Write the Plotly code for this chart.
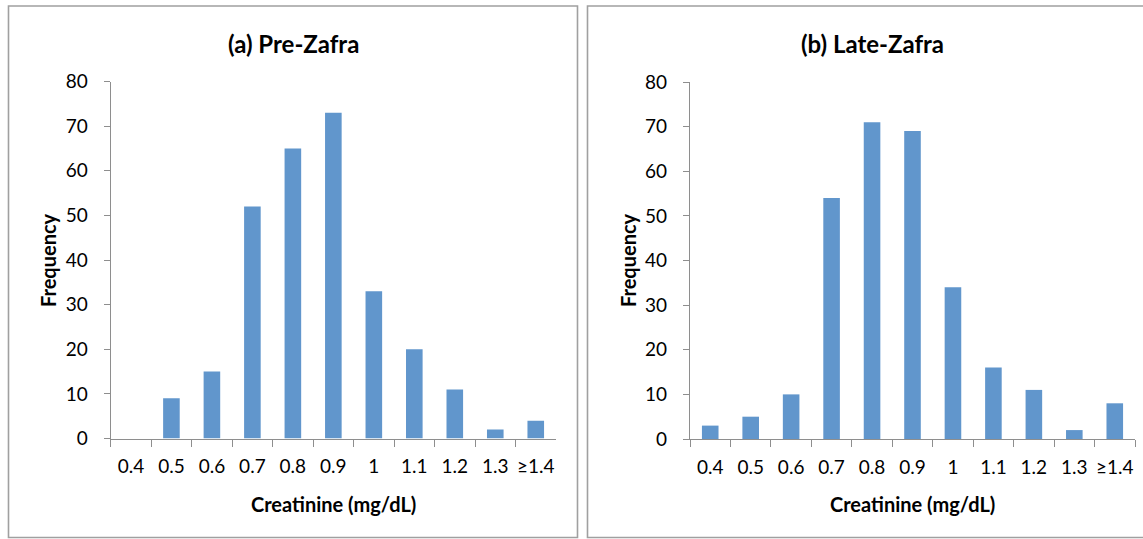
import plotly.graph_objects as go

categories = ["0.4", "0.5", "0.6", "0.7", "0.8", "0.9", "1", "1.1", "1.2", "1.3", "≥1.4"]
pre_zafra = [0, 9, 15, 52, 65, 73, 33, 20, 11, 2, 4]
late_zafra = [3, 5, 10, 54, 71, 69, 34, 16, 11, 2, 8]
titles = ["(a) Pre-Zafra", "(b) Late-Zafra"]
x_title = "Creatinine (mg/dL)"
y_title = "Frequency"

W, H = 1143, 539
FONT = "Lato"
BAR = "#6196CC"
AX = "#8E8E8E"

fig = go.Figure()
fig.add_trace(go.Bar(x=categories, y=pre_zafra, xaxis="x", yaxis="y",
                     marker=dict(color=BAR, line=dict(width=0)),
                     showlegend=False))
fig.add_trace(go.Bar(x=categories, y=late_zafra, xaxis="x2", yaxis="y2",
                     marker=dict(color=BAR, line=dict(width=0)),
                     showlegend=False))

def px_x(p):
    return p / W

def px_y(p):
    return 1 - p / H

xdoms = [(px_x(110.7), px_x(556)), (px_x(690), px_x(1135))]
ydoms = [(px_y(438.5), px_y(81.5)), (px_y(439), px_y(82))]

layout = dict(
    width=W, height=H,
    margin=dict(l=0, r=0, t=0, b=0, pad=0, autoexpand=False),
    paper_bgcolor="white", plot_bgcolor="white",
    bargap=0.59,
    font=dict(family=FONT, color="black"),
)
for i in range(2):
    sx = "" if i == 0 else "2"
    layout["xaxis" + sx] = dict(
        domain=list(xdoms[i]), anchor="y" + sx, type="category",
        range=[-0.5, 10.5], showgrid=False, zeroline=False,
        showline=True, linecolor=AX, linewidth=1.3,
        ticks="outside", ticklen=7, tickcolor=AX, tickwidth=1.3,
        tickson="boundaries", tickangle=0, automargin=False,
        tickfont=dict(size=19, family=FONT, color="black"),
        ticklabelstandoff=11, fixedrange=True,
    )
    layout["yaxis" + sx] = dict(
        domain=list(ydoms[i]), anchor="x" + sx,
        range=[0, 80], dtick=10, showgrid=False, zeroline=False,
        showline=True, linecolor=AX, linewidth=1.3, automargin=False,
        ticks="outside", ticklen=6, tickcolor=AX, tickwidth=1.3,
        tickfont=dict(size=19, family=FONT, color="black"),
        ticklabelstandoff=12, fixedrange=True,
    )
fig.update_layout(**layout)

# panel frames
frames = [(8.5, 577.5), (587.5, 1156.5)]
for x0, x1 in frames:
    fig.add_shape(type="rect", xref="paper", yref="paper",
                  x0=px_x(x0), x1=px_x(x1), y0=px_y(537.5), y1=px_y(6),
                  line=dict(color="#A0A0A0", width=1.6), fillcolor="rgba(0,0,0,0)")

title_x = [293, 872]
xt_x = [333.3, 912.5]
yt_x = [48, 628]
for i in range(2):
    fig.add_annotation(text="<b>" + titles[i] + "</b>", xref="paper", yref="paper",
                       x=px_x(title_x[i]), y=px_y(44), xanchor="center", yanchor="middle",
                       showarrow=False, font=dict(size=24, family=FONT, color="black"))
    fig.add_annotation(text="<b>" + x_title + "</b>", xref="paper", yref="paper",
                       x=px_x(xt_x[i]), y=px_y(504), xanchor="center", yanchor="middle",
                       showarrow=False, font=dict(size=20, family=FONT, color="black"))
    fig.add_annotation(text="<b>" + y_title + "</b>", xref="paper", yref="paper",
                       x=px_x(yt_x[i]), y=px_y(260), xanchor="center", yanchor="middle",
                       textangle=-90, showarrow=False,
                       font=dict(size=20, family=FONT, color="black"))

post = ("document.documentElement.style.overflow='hidden';"
        "document.body.style.margin='0';document.body.style.overflow='hidden';"
        "var gd=document.getElementById('{plot_id}');"
        "gd.style.position='fixed';gd.style.left='0px';gd.style.top='0px';")
fig.write_html("out.html", config={"displayModeBar": False}, post_script=post)
